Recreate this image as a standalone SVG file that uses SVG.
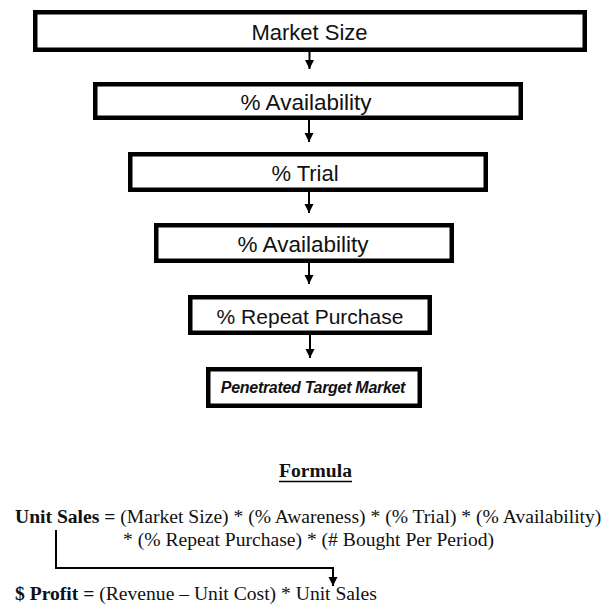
<svg xmlns="http://www.w3.org/2000/svg" width="605" height="606" viewBox="0 0 605 606">
<defs>
<style>
.box{fill:#fff;stroke:#000;stroke-width:4.5}
.lbl{font-family:"Liberation Sans",Arial,sans-serif;font-size:22px;fill:#111;text-anchor:middle}
.conn{fill:none;stroke:#000;stroke-width:2}
.f{font-family:"Liberation Serif","Times New Roman",serif;font-size:19.6px;fill:#111}
.b{font-weight:bold}
</style>
<marker id="ah" viewBox="0 0 10 10" refX="10" refY="5" markerWidth="9" markerHeight="11" orient="auto" markerUnits="userSpaceOnUse">
<path d="M0,0 L10,5 L0,10 z" fill="#000"/>
</marker>
</defs>
<rect width="605" height="606" fill="#fff"/>
<g id="n1"><rect class="box" x="35.25" y="12.25" width="549.5" height="37.5"/><text class="lbl" x="309.5" y="39.5">Market Size</text></g>
<g id="n2"><rect class="box" x="95.25" y="84.25" width="425.5" height="33.5"/><text class="lbl" x="306" y="110" style="font-size:22.5px">% Availability</text></g>
<g id="n3"><rect class="box" x="130.25" y="154.25" width="355.5" height="35.5"/><text class="lbl" x="305" y="181">% Trial</text></g>
<g id="n4"><rect class="box" x="156.25" y="225.25" width="295.5" height="35.5"/><text class="lbl" x="303" y="252" style="font-size:22.5px">% Availability</text></g>
<g id="n5"><rect class="box" x="190.25" y="297.25" width="239.5" height="35.5"/><text class="lbl" x="310" y="324" style="font-size:21px">% Repeat Purchase</text></g>
<g id="n6"><rect class="box" x="208.25" y="369.25" width="211.5" height="36.5"/><text class="lbl" x="313" y="393" style="font-size:16px;font-weight:bold;font-style:italic;letter-spacing:-0.3px">Penetrated Target Market</text></g>
<g id="connectors">
<line class="conn" x1="309.5" y1="52" x2="309.5" y2="69" marker-end="url(#ah)"/>
<line class="conn" x1="309" y1="120" x2="309" y2="142" marker-end="url(#ah)"/>
<line class="conn" x1="309" y1="192" x2="309" y2="213" marker-end="url(#ah)"/>
<line class="conn" x1="309" y1="263" x2="309" y2="284" marker-end="url(#ah)"/>
<line class="conn" x1="310" y1="335" x2="310" y2="358" marker-end="url(#ah)"/>
<path class="conn" d="M56,530 V568 H333 V586" marker-end="url(#ah)"/>
</g>
<g id="formula">
<text class="f b" x="315.5" y="477" text-anchor="middle">Formula</text>
<line x1="279" y1="481.5" x2="352" y2="481.5" stroke="#000" stroke-width="1.5"/>
<text class="f" x="15" y="523"><tspan class="b">Unit Sales =</tspan> (Market Size) * (% Awareness) * (% Trial) * (% Availability)</text>
<text class="f" x="123" y="546">* (% Repeat Purchase) * (# Bought Per Period)</text>
<text class="f" x="15" y="600"><tspan class="b">$ Profit =</tspan> (Revenue – Unit Cost) * Unit Sales</text>
</g>
</svg>
